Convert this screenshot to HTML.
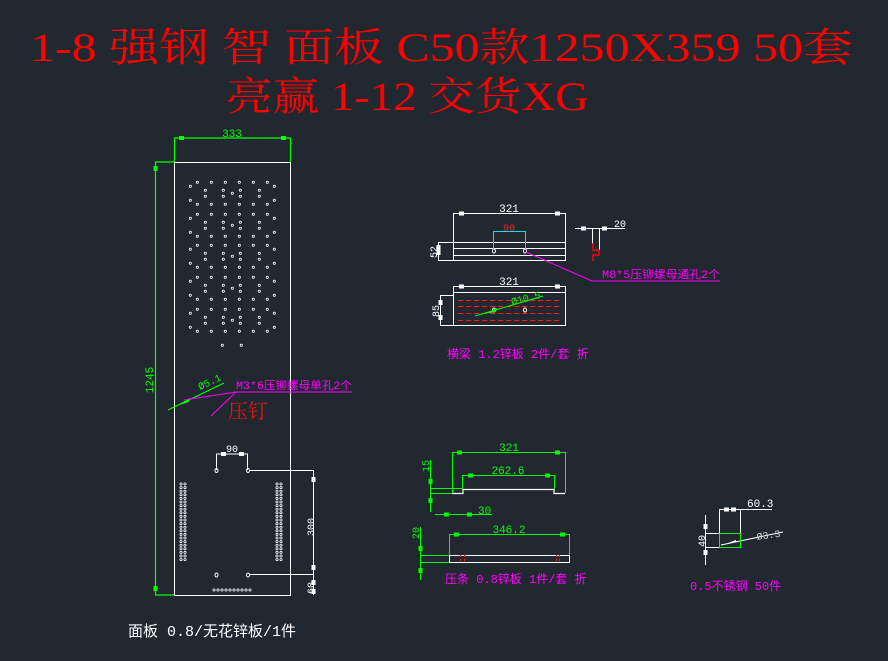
<!DOCTYPE html>
<html><head><meta charset="utf-8"><style>
html,body{margin:0;padding:0;background:#212830;}
svg{display:block}
text{font-family:"Liberation Mono","Noto Sans CJK SC",monospace;}
.t{font-family:"Liberation Serif","Noto Serif CJK SC",serif;}
</style></head><body>
<svg id="s" width="888" height="661" viewBox="0 0 888 661" xmlns="http://www.w3.org/2000/svg">
<rect width="888" height="661" fill="#212830"/>
<text class="t" x="30" y="61" font-size="40" fill="#ff0000" textLength="823" lengthAdjust="spacingAndGlyphs">1-8  强钢 智 面板 C50款1250X359 50套</text>
<text class="t" x="226" y="110" font-size="40" fill="#ff0000" textLength="363" lengthAdjust="spacingAndGlyphs">亮赢 1-12 交货XG</text>

<!-- panel -->
<g fill="none" stroke="#ffffff" stroke-width="1">
<rect x="174.5" y="162.5" width="116" height="433"/>
</g>
<g stroke="#00ff00" fill="none" stroke-width="1.2">
<polyline points="174.5,162 174.5,138 290.5,138 290.5,162"/>
<polyline points="174,162 155.5,162 155.5,595 174,595"/>
</g>
<g fill="#00ff00"><rect x="179" y="136" width="5" height="4"/><rect x="281" y="136" width="5" height="4"/><rect x="153.5" y="166" width="4" height="5"/><rect x="153.5" y="586" width="4" height="5"/></g>
<text x="232" y="137" font-size="11" fill="#00ff00" text-anchor="middle">333</text>
<text x="0" y="0" font-size="11" fill="#00ff00" text-anchor="middle" transform="translate(153,380) rotate(-90)">1245</text>
<g id="dots" fill="none" stroke="#ffffff" stroke-width="0.8"></g>

<!-- leader -->
<line x1="168" y1="410" x2="224" y2="383" stroke="#00ff00" stroke-width="1"/>
<polygon points="176,406 190,398 189,402" fill="#00ff00"/>
<text x="0" y="0" font-size="10" fill="#00ff00" transform="translate(200,390) rotate(-25)">Ø5.1</text>
<polyline points="184,400 236,392 352,392" stroke="#ff00ff" fill="none" stroke-width="1"/>
<line x1="236" y1="392" x2="211" y2="416" stroke="#ff00ff" stroke-width="1"/>
<text x="236" y="389" font-size="11" fill="#ff00ff" textLength="116" lengthAdjust="spacingAndGlyphs">M3*6压铆螺母单孔2个</text>
<text class="t" x="228" y="418" font-size="20" fill="#ee1111">压钉</text>

<!-- lower panel detail -->
<g stroke="#ffffff" fill="none" stroke-width="1">
<polyline points="216.5,470 216.5,454 247.5,454 247.5,470"/>
<polyline points="250,470.5 313.5,470.5 313.5,595"/>
<line x1="250" y1="574.5" x2="313" y2="574.5"/>
<ellipse cx="216.5" cy="470.5" rx="1.5" ry="2"/><ellipse cx="248" cy="470.5" rx="1.5" ry="2"/>
<ellipse cx="216.5" cy="575" rx="1.5" ry="2"/><ellipse cx="248" cy="575" rx="1.5" ry="2"/>
</g>
<g fill="#ffffff"><rect x="221" y="452" width="5" height="4"/><rect x="239" y="452" width="5" height="4"/><rect x="311.5" y="477" width="4" height="5"/><rect x="311.5" y="565" width="4" height="5"/><rect x="311.5" y="580" width="4" height="5"/><rect x="311.5" y="589" width="4" height="5"/></g>
<text x="232" y="452" font-size="10" fill="#ffffff" text-anchor="middle">90</text>
<text x="0" y="0" font-size="10" fill="#ffffff" text-anchor="middle" transform="translate(314,527) rotate(-90)">300</text>
<text x="0" y="0" font-size="10" fill="#ffffff" text-anchor="middle" transform="translate(314,588) rotate(-90)">60</text>
<text x="128" y="636" font-size="15" fill="#ffffff">面板 0.8/无花锌板/1件</text>

<!-- beam top view -->
<g stroke="#ffffff" fill="none" stroke-width="1">
<polyline points="453.5,242 453.5,213.5 565.5,213.5 565.5,242"/>
<rect x="453.5" y="242.5" width="112" height="18"/>
<line x1="453" y1="248.5" x2="566" y2="248.5"/>
<line x1="453" y1="255.5" x2="566" y2="255.5"/>
<polyline points="453,242.5 438.5,242.5 438.5,260.5 453,260.5"/>
<ellipse cx="494" cy="251" rx="1.5" ry="2"/><ellipse cx="525" cy="251" rx="1.5" ry="2"/>
<polyline points="575,228.5 625,228.5"/>
<line x1="592.5" y1="228" x2="592.5" y2="244"/><line x1="599.5" y1="228" x2="599.5" y2="250"/>
</g>
<g fill="#ffffff"><rect x="459" y="211.5" width="5" height="4"/><rect x="555" y="211.5" width="5" height="4"/><rect x="436.5" y="245" width="4" height="10"/><rect x="581" y="226.5" width="5" height="4"/><rect x="602" y="226.5" width="5" height="4"/></g>
<text x="509" y="212" font-size="11" fill="#ffffff" text-anchor="middle">321</text>
<text x="0" y="0" font-size="10" fill="#ffffff" text-anchor="middle" transform="translate(437,252) rotate(-90)">52</text>
<text x="614" y="227" font-size="10" fill="#ffffff">20</text>
<polyline points="593,243 593,250 599,250 599,255 593,255 593,261" stroke="#ff0000" fill="none" stroke-width="1.5"/>
<polyline points="493.5,250 493.5,231.5 525.5,231.5 525.5,250" stroke="#00e5e5" fill="none" stroke-width="1"/>
<text x="509" y="231" font-size="10" fill="#ff2020" text-anchor="middle">90</text>
<polyline points="526,252 592,281 720,281" stroke="#ff00ff" fill="none" stroke-width="1"/>
<text x="602" y="278" font-size="11" fill="#ff00ff" textLength="118" lengthAdjust="spacingAndGlyphs">M8*5压铆螺母通孔2个</text>

<!-- beam second view -->
<g stroke="#ffffff" fill="none" stroke-width="1">
<polyline points="453.5,292 453.5,286.5 565.5,286.5 565.5,292"/>
<rect x="453.5" y="292.5" width="112" height="33"/>
<polyline points="453,295.5 440.5,295.5 440.5,325.5 453,325.5"/>
<ellipse cx="494" cy="310" rx="1.5" ry="2"/><ellipse cx="525" cy="310" rx="1.5" ry="2"/>
</g>
<g fill="#ffffff"><rect x="459" y="284.5" width="5" height="4"/><rect x="555" y="284.5" width="5" height="4"/><rect x="438.5" y="300" width="4" height="5"/><rect x="438.5" y="315" width="4" height="5"/></g>
<text x="509" y="285" font-size="11" fill="#ffffff" text-anchor="middle">321</text>
<text x="0" y="0" font-size="10" fill="#ffffff" text-anchor="middle" transform="translate(439,311) rotate(-90)">85</text>
<g stroke="#ff1a1a" stroke-dasharray="5,3" stroke-width="1"><line x1="458" y1="300.5" x2="562" y2="300.5"/><line x1="458" y1="306.5" x2="562" y2="306.5"/><line x1="458" y1="313.5" x2="562" y2="313.5"/><line x1="458" y1="320.5" x2="562" y2="320.5"/></g>
<line x1="475" y1="316" x2="543" y2="296" stroke="#00ff00" stroke-width="1"/>
<polygon points="483,314 497,308 496,312" fill="#00ff00"/>
<text x="0" y="0" font-size="10" fill="#00ff00" transform="translate(512,305) rotate(-14)">Ø10.5</text>
<text x="447" y="358" font-size="12" fill="#ff00ff">横梁 1.2锌板 2件/套 折</text>

<!-- strip -->
<g stroke="#00ff00" fill="none" stroke-width="1">
<polyline points="452.5,493 452.5,452.5 565.5,452.5 565.5,493"/>
<polyline points="462.5,489 462.5,475.5 554.5,475.5 554.5,489"/>
<line x1="430.5" y1="460" x2="430.5" y2="512"/>
<line x1="430" y1="488.5" x2="462" y2="488.5"/><line x1="430" y1="493.5" x2="452" y2="493.5"/>
<line x1="435" y1="514.5" x2="492" y2="514.5"/>
<polyline points="449.5,555 449.5,534.5 569.5,534.5 569.5,555"/>
<line x1="420.5" y1="527" x2="420.5" y2="580"/>
<line x1="420" y1="555.5" x2="449" y2="555.5"/><line x1="420" y1="562.5" x2="449" y2="562.5"/>
</g>
<g fill="#00ff00"><rect x="457" y="450.5" width="5" height="4"/><rect x="555" y="450.5" width="5" height="4"/><rect x="468" y="473.5" width="5" height="4"/><rect x="545" y="473.5" width="5" height="4"/><rect x="428.5" y="479" width="4" height="5"/><rect x="428.5" y="498" width="4" height="5"/><rect x="444" y="512.5" width="5" height="4"/><rect x="467" y="512.5" width="5" height="4"/><rect x="454" y="532.5" width="5" height="4"/><rect x="560" y="532.5" width="5" height="4"/><rect x="418.5" y="546" width="4" height="5"/><rect x="418.5" y="568" width="4" height="5"/></g>
<polyline points="452,493.5 463,493.5 463,489.5 554,489.5 554,493.5 565,493.5" stroke="#ffffff" fill="none" stroke-width="1.2"/>
<rect x="449.5" y="555.5" width="120" height="7" stroke="#ffffff" fill="none" stroke-width="1"/>
<g stroke="#ff1a1a" stroke-dasharray="2,2"><line x1="460.5" y1="555" x2="460.5" y2="563"/><line x1="464.5" y1="555" x2="464.5" y2="563"/><line x1="556.5" y1="555" x2="556.5" y2="563"/><line x1="559.5" y1="555" x2="559.5" y2="563"/></g>
<text x="509" y="451" font-size="11" fill="#00ff00" text-anchor="middle">321</text>
<text x="508" y="474" font-size="11" fill="#00ff00" text-anchor="middle">262.6</text>
<text x="478" y="514" font-size="11" fill="#00ff00">30</text>
<text x="509" y="533" font-size="11" fill="#00ff00" text-anchor="middle">346.2</text>
<text x="0" y="0" font-size="10" fill="#00ff00" text-anchor="middle" transform="translate(429,466) rotate(-90)">15</text>
<text x="0" y="0" font-size="10" fill="#00ff00" text-anchor="middle" transform="translate(419,533) rotate(-90)">20</text>
<text x="445" y="583" font-size="12" fill="#ff00ff">压条 0.8锌板 1件/套 折</text>

<!-- small part -->
<g stroke="#ffffff" fill="none" stroke-width="1">
<polyline points="719.5,533 719.5,509.5 772,509.5"/>
<line x1="740.5" y1="509" x2="740.5" y2="548"/>
<line x1="705.5" y1="515" x2="705.5" y2="565"/>
<line x1="705" y1="533.5" x2="719" y2="533.5"/><line x1="705" y1="547.5" x2="719" y2="547.5"/>
<line x1="721" y1="545" x2="783" y2="532"/>
</g>
<rect x="719.5" y="533.5" width="21" height="14" stroke="#00ff00" fill="none" stroke-width="1"/>
<g fill="#ffffff"><rect x="724" y="507.5" width="5" height="4"/><rect x="731" y="507.5" width="5" height="4"/><rect x="703.5" y="524" width="4" height="5"/><rect x="703.5" y="550" width="4" height="5"/><polygon points="728,543 736,540 736,542"/></g>
<text x="747" y="507" font-size="11" fill="#ffffff">60.3</text>
<text x="0" y="0" font-size="10" fill="#cccccc" transform="translate(757,540) rotate(-8)">Ø3.3</text>
<text x="0" y="0" font-size="10" fill="#ffffff" text-anchor="middle" transform="translate(705,541) rotate(-90)">40</text>
<text x="690" y="590" font-size="12" fill="#ff00ff">0.5不锈钢 50件</text>
</svg>
<script>
var g=document.getElementById('dots'),ns='http://www.w3.org/2000/svg';
function d(x,y){var c=document.createElementNS(ns,'circle');c.setAttribute('cx',x);c.setAttribute('cy',y);c.setAttribute('r',1.1);g.appendChild(c);}
var A=[197.3,211.3,225.3,239.3,253.3,267.3],B=[205.3,223.3,240.3,259.3];
[182.3,214.3,245.3,277.3,309.3].forEach(function(y0){
A.forEach(function(x){d(x,y0);d(x,y0+22);});
[190.3,274.3].forEach(function(x){d(x,y0+4);d(x,y0+18);});
B.forEach(function(x){d(x,y0+8);d(x,y0+14);});
d(232.3,y0+11);});
d(222.3,345.3);d(241.3,345.3);
for(var y=484;y<=562;y+=3.6){d(181,y);d(185,y);d(277,y);d(281,y);}
for(var x=214;x<=250;x+=4){d(x,590);}
</script>
</body></html>
